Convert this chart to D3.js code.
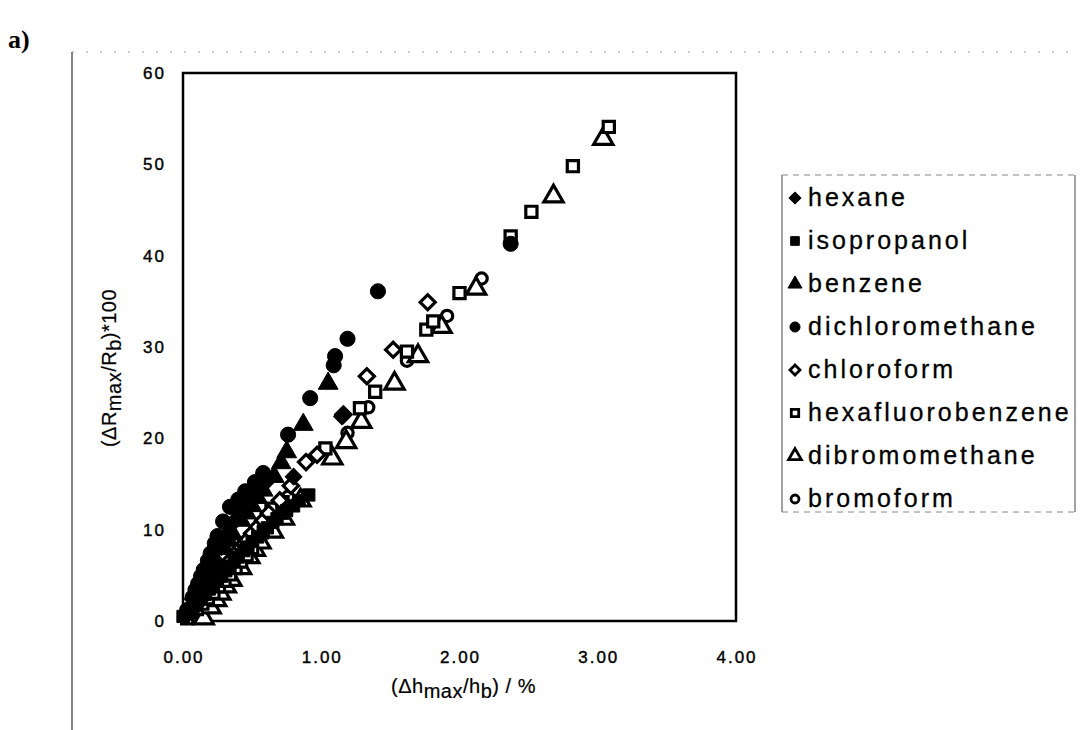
<!DOCTYPE html>
<html lang="en">
<head>
    <meta charset="utf-8">
    <title>Response vs thickness change</title>
    <script type="text/javascript" src="https://cdn.jsdelivr.net/npm/d3@7/dist/d3.min.js"></script>
    <style>
        body { margin: 0; background: #fff; }
        .ticklabel { font-family: "Liberation Sans", Arial, sans-serif; font-size: 17px; letter-spacing: 2px; fill: #000; stroke: #000; stroke-width: 0.4px; }
        .axistitle { font-family: "Liberation Sans", Arial, sans-serif; font-size: 20px; letter-spacing: 0.5px; fill: #000; stroke: #000; stroke-width: 0.2px; }
        .legendtext { font-family: "Liberation Sans", Arial, sans-serif; font-size: 25px; letter-spacing: 3px; fill: #000; stroke: #000; stroke-width: 0.3px; }
        .panel { font-family: "Liberation Serif", "Times New Roman", serif; font-weight: bold; font-size: 26px; }
    </style>
</head>
<body>
<div id="container"></div>
<script type="text/javascript">
    // series names in legend order
    const names = ["hexane", "isopropanol", "benzene", "dichloromethane", "chloroform",
        "hexafluorobenzene", "dibromomethane", "bromoform"];

    // [dh/hb %, dR/Rb*100]
    const hexane = [[0.02, 0.5], [0.05, 1.4], [0.07, 2.4], [0.09, 2.6], [0.11, 3.7], [0.13, 3.8], [0.16, 5.0],
        [0.18, 5.2], [0.21, 6.5], [0.23, 6.7], [0.26, 8.0], [0.28, 8.1], [0.31, 9.4], [0.33, 9.6], [0.36, 10.8],
        [0.38, 11.0], [0.42, 12.2], [0.44, 12.6], [0.5, 13.4], [0.55, 14.6], [0.6, 15.2], [0.8, 15.8], [1.15, 22.4]];
    const isopropanol = [[0.0, 0.5], [0.05, 0.9], [0.1, 1.8], [0.13, 2.4], [0.16, 2.9], [0.19, 3.5], [0.22, 3.9],
        [0.25, 4.5], [0.28, 4.9], [0.31, 5.5], [0.34, 6.0], [0.37, 6.6], [0.4, 7.0], [0.44, 7.7], [0.47, 8.1],
        [0.5, 8.7], [0.54, 9.2], [0.58, 9.8], [0.61, 10.2], [0.65, 10.8], [0.68, 11.2], [0.72, 11.8],
        [0.75, 12.1], [0.8, 12.6], [0.84, 13.2], [0.91, 13.8]];
    const benzene = [[0.04, 1.0], [0.08, 2.2], [0.13, 3.5], [0.18, 4.8], [0.21, 5.7], [0.24, 6.3], [0.3, 7.9],
        [0.33, 8.8], [0.36, 9.5], [0.42, 11.0], [0.46, 11.8], [0.5, 12.6], [0.54, 13.5], [0.58, 14.3],
        [0.66, 15.8], [0.71, 17.3], [0.75, 18.5], [0.87, 21.5], [1.05, 26.0]];
    const dichloromethane = [[0.03, 1.2], [0.07, 2.6], [0.09, 3.4], [0.11, 4.1], [0.13, 4.9], [0.15, 5.6],
        [0.18, 6.6], [0.2, 7.4], [0.23, 8.5], [0.25, 9.3], [0.29, 10.9], [0.34, 12.5], [0.4, 13.3], [0.45, 14.2],
        [0.52, 15.2], [0.58, 16.2], [0.76, 20.4], [0.92, 24.4], [1.09, 28.0], [1.1, 29.0], [1.19, 30.9],
        [1.41, 36.1], [2.37, 41.3]];
    const chloroform = [[0.06, 1.1], [0.1, 1.9], [0.14, 2.6], [0.18, 3.4], [0.22, 4.2], [0.26, 5.0], [0.3, 5.8],
        [0.34, 6.6], [0.38, 7.4], [0.42, 8.1], [0.46, 8.8], [0.5, 9.6], [0.54, 10.3], [0.58, 11.0], [0.62, 11.8],
        [0.7, 13.2], [0.78, 14.8], [0.89, 17.4], [0.97, 18.2], [1.16, 22.6], [1.33, 26.8], [1.52, 29.7], [1.77, 34.9]];
    const hexafluorobenzene = [[0.03, 0.3], [0.1, 1.3], [0.14, 1.9], [0.18, 2.5], [0.22, 3.1], [0.26, 3.8],
        [0.3, 4.4], [0.34, 5.1], [0.38, 5.8], [0.42, 6.5], [0.46, 7.2], [0.5, 8.0], [0.57, 9.7], [0.64, 12.3],
        [0.72, 13.0], [1.03, 18.9], [1.28, 23.3], [1.39, 25.1], [1.62, 29.5], [1.76, 31.9], [1.81, 32.8],
        [2.0, 35.9], [2.37, 42.1], [2.52, 44.8], [2.82, 49.8], [3.08, 54.1]];
    const dibromomethane = [[0.15, 0.3], [0.2, 1.5], [0.24, 2.3], [0.27, 3.0], [0.31, 3.8], [0.35, 4.5],
        [0.42, 5.8], [0.48, 7.0], [0.52, 7.8], [0.56, 8.6], [0.65, 9.8], [0.73, 11.2], [0.85, 13.2], [1.08, 17.8],
        [1.18, 19.6], [1.29, 21.8], [1.53, 26.0], [1.7, 29.0], [1.87, 32.2], [2.12, 36.4], [2.68, 46.5], [3.04, 52.8]];
    const bromoform = [[0.05, 0.8], [0.12, 2.0], [0.16, 2.8], [0.2, 3.5], [0.24, 4.3], [0.28, 5.0], [0.32, 5.8],
        [0.36, 6.6], [0.44, 8.1], [0.52, 9.6], [0.6, 11.0], [0.68, 12.4], [0.76, 13.6], [1.19, 20.6],
        [1.34, 23.4], [1.62, 28.5], [1.91, 33.4], [2.16, 37.5]];

    const xTicks = [0, 1, 2, 3, 4];
    const yTicks = [0, 10, 20, 30, 40, 50, 60];

    const series = [hexane, isopropanol, benzene, dichloromethane, chloroform,
        hexafluorobenzene, dibromomethane, bromoform];

    const w = 1085;
    const h = 730;
    const svg = d3.select("div#container").append("svg")
        .attr("width", w).attr("height", h)
        .style("background-color", "#fff");

    const x = d3.scaleLinear().domain([0, 4]).range([183, 736]);
    const y = d3.scaleLinear().domain([0, 60]).range([621, 73]);

    // marker look for each series: symbol, rotation, filled or open, size
    const looks = [
        {sym: d3.symbolSquare, rot: 45, fill: true, size: 140, lsize: 70},
        {sym: d3.symbolSquare, rot: 0, fill: true, size: 150, lsize: 75},
        {sym: d3.symbolTriangle, rot: 0, fill: true, size: 170, lsize: 85},
        {sym: d3.symbolCircle, rot: 0, fill: true, size: 180, lsize: 80},
        {sym: d3.symbolSquare, rot: 45, fill: false, size: 115, lsize: 50},
        {sym: d3.symbolSquare, rot: 0, fill: false, size: 125, lsize: 55},
        {sym: d3.symbolTriangle, rot: 0, fill: false, size: 160, lsize: 70},
        {sym: d3.symbolCircle, rot: 0, fill: false, size: 100, lsize: 50}
    ];

    // outer scan frame
    svg.append("line").attr("x1", 72).attr("x2", 72).attr("y1", 52).attr("y2", h)
        .attr("stroke", "#333").attr("stroke-width", 1.2);
    svg.append("line").attr("x1", 72).attr("x2", 1080).attr("y1", 52).attr("y2", 52)
        .attr("stroke", "#999").attr("stroke-width", 1).attr("stroke-dasharray", "2,12");

    svg.append("text").attr("class", "panel").attr("x", 8).attr("y", 48).text("a)");

    // plot box
    svg.append("rect")
        .attr("x", x(0)).attr("y", y(60))
        .attr("width", x(4) - x(0)).attr("height", y(0) - y(60))
        .attr("fill", "none").attr("stroke", "#000").attr("stroke-width", 2.5);

    // tick labels
    svg.selectAll("text.ylab")
        .data(yTicks)
        .enter()
        .append("text")
        .attr("class", "ticklabel ylab")
        .attr("x", 166)
        .attr("y", function (d) { return y(d) + 6; })
        .attr("text-anchor", "end")
        .text(function (d) { return d; });

    svg.selectAll("text.xlab")
        .data(xTicks)
        .enter()
        .append("text")
        .attr("class", "ticklabel xlab")
        .attr("x", function (d) { return x(d) + 1; })
        .attr("y", 663)
        .attr("text-anchor", "middle")
        .text(function (d) { return d3.format(".2f")(d); });

    // axis titles
    const xt = svg.append("text").attr("class", "axistitle")
        .attr("x", (x(0) + x(4)) / 2 + 4).attr("y", 693).attr("text-anchor", "middle");
    xt.append("tspan").text("(Δh");
    xt.append("tspan").attr("dy", 5).text("max");
    xt.append("tspan").attr("dy", -5).text("/h");
    xt.append("tspan").attr("dy", 5).text("b");
    xt.append("tspan").attr("dy", -5).text(") / %");

    const yt = svg.append("text").attr("class", "axistitle")
        .attr("transform", "translate(116,368) rotate(-90)").attr("text-anchor", "middle");
    yt.append("tspan").text("(ΔR");
    yt.append("tspan").attr("dy", 5).text("max");
    yt.append("tspan").attr("dy", -5).text("/R");
    yt.append("tspan").attr("dy", 5).text("b");
    yt.append("tspan").attr("dy", -5).text(")*100");

    // draw the points: open markers first, the filled ones over them
    const order = [7, 6, 5, 4, 0, 1, 2, 3];
    const marks = svg.append("g");
    order.forEach(function (i) {
        const lk = looks[i];
        const shape = d3.symbol().type(lk.sym).size(lk.size);
        marks.append("g")
            .selectAll("path")
            .data(series[i])
            .enter()
            .append("path")
            .attr("d", shape)
            .attr("transform", function (d) {
                return "translate(" + x(d[0]) + "," + y(d[1]) + ") rotate(" + lk.rot + ")";
            })
            .attr("fill", lk.fill ? "#000" : "#fff")
            .attr("stroke", "#000")
            .attr("stroke-width", lk.fill ? 1 : 3.2);
    });

    // legend
    const lg = svg.append("g");
    lg.append("line").attr("x1", 782).attr("x2", 782).attr("y1", 175).attr("y2", 512)
        .attr("stroke", "#444").attr("stroke-width", 1);
    lg.append("line").attr("x1", 1075).attr("x2", 1075).attr("y1", 175).attr("y2", 512)
        .attr("stroke", "#444").attr("stroke-width", 1);
    lg.append("line").attr("x1", 782).attr("x2", 1075).attr("y1", 175).attr("y2", 175)
        .attr("stroke", "#888").attr("stroke-width", 1).attr("stroke-dasharray", "6,5");
    lg.append("line").attr("x1", 782).attr("x2", 1075).attr("y1", 512).attr("y2", 512)
        .attr("stroke", "#888").attr("stroke-width", 1).attr("stroke-dasharray", "6,5");

    const items = lg.selectAll("g.item")
        .data(names)
        .enter()
        .append("g")
        .attr("class", "item")
        .attr("transform", function (d, i) { return "translate(795," + (198 + i * 43) + ")"; });

    items.append("path")
        .attr("d", function (d, i) { return d3.symbol().type(looks[i].sym).size(looks[i].lsize)(); })
        .attr("transform", function (d, i) { return "rotate(" + looks[i].rot + ")"; })
        .attr("fill", function (d, i) { return looks[i].fill ? "#000" : "#fff"; })
        .attr("stroke", "#000")
        .attr("stroke-width", function (d, i) { return looks[i].fill ? 1 : 2.8; });

    items.append("text")
        .attr("class", "legendtext")
        .attr("x", 13)
        .attr("y", 8)
        .text(function (d) { return d; });
</script>
</body>
</html>
